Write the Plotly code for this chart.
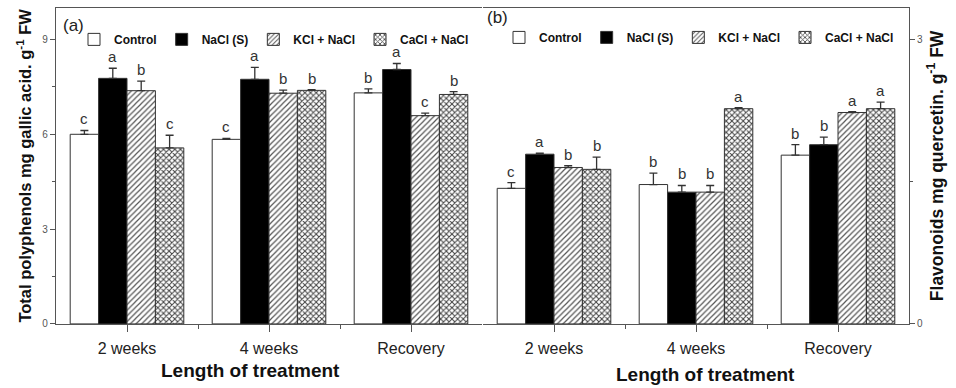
import plotly.graph_objects as go

# Sampling times and treatments
categories = ["2 weeks", "4 weeks", "Recovery"]
treatments = ["Control", "NaCl (S)", "KCl + NaCl", "CaCl + NaCl"]

# (a) Total polyphenols (mg gallic acid g-1 FW): means, upper SE, letters
poly_control = [6.00, 5.84, 7.31]
poly_nacl = [7.77, 7.74, 8.05]
poly_kcl = [7.38, 7.30, 6.59]
poly_cacl = [5.57, 7.39, 7.26]
poly_err_control = [0.12, 0.03, 0.13]
poly_err_nacl = [0.32, 0.38, 0.19]
poly_err_kcl = [0.30, 0.10, 0.08]
poly_err_cacl = [0.40, 0.02, 0.09]
poly_sig_control = ["c", "c", "b"]
poly_sig_nacl = ["a", "a", "a"]
poly_sig_kcl = ["b", "b", "c"]
poly_sig_cacl = ["c", "b", "b"]

# (b) Flavonoids (mg quercetin g-1 FW): means, upper SE, letters
flav_control = [1.43, 1.47, 1.78]
flav_nacl = [1.79, 1.39, 1.89]
flav_kcl = [1.65, 1.39, 2.23]
flav_cacl = [1.63, 2.27, 2.27]
flav_err_control = [0.06, 0.12, 0.11]
flav_err_nacl = [0.01, 0.07, 0.08]
flav_err_kcl = [0.02, 0.07, 0.01]
flav_err_cacl = [0.13, 0.01, 0.07]
flav_sig_control = ["c", "b", "b"]
flav_sig_nacl = ["a", "b", "b"]
flav_sig_kcl = ["b", "b", "a"]
flav_sig_cacl = ["b", "a", "a"]

poly_vals = [poly_control, poly_nacl, poly_kcl, poly_cacl]
poly_errs = [poly_err_control, poly_err_nacl, poly_err_kcl, poly_err_cacl]
poly_sigs = [poly_sig_control, poly_sig_nacl, poly_sig_kcl, poly_sig_cacl]
flav_vals = [flav_control, flav_nacl, flav_kcl, flav_cacl]
flav_errs = [flav_err_control, flav_err_nacl, flav_err_kcl, flav_err_cacl]
flav_sigs = [flav_sig_control, flav_sig_nacl, flav_sig_kcl, flav_sig_cacl]

FONT = "Liberation Sans, Arial, sans-serif"
EDGE = "#333333"
AXIS = "#555555"

fills = [
    dict(color="white"),
    dict(color="black"),
    dict(color="white", pattern=dict(shape="/", fgcolor="#555555", bgcolor="white",
                                     size=4, solidity=0.3, fillmode="replace")),
    dict(color="white", pattern=dict(shape="x", fgcolor="#444444", bgcolor="white",
                                     size=4, solidity=0.45, fillmode="replace")),
]

xpos = list(range(len(categories)))
n = len(treatments)
bar_w = 0.8 / n

fig = go.Figure()
annotations = []

panels = [
    ("x", "y", "legend", poly_vals, poly_errs, poly_sigs),
    ("x2", "y2", "legend2", flav_vals, flav_errs, flav_sigs),
]
for xa, ya, lg, vals, errs, sigs in panels:
    for j, name in enumerate(treatments):
        fig.add_trace(go.Bar(
            x=xpos, y=vals[j], name=name, xaxis=xa, yaxis=ya, legend=lg,
            offsetgroup=str(j),
            marker=dict(line=dict(color=EDGE, width=1), **fills[j]),
            error_y=dict(type="data", array=errs[j], arrayminus=[0] * len(xpos),
                         symmetric=False, color=EDGE, thickness=1.3, width=4),
        ))
        for i in xpos:
            annotations.append(dict(
                x=i + (j - (n - 1) / 2) * bar_w, y=vals[j][i] + errs[j][i],
                xref=xa, yref=ya, text=sigs[j][i], showarrow=False,
                yanchor="bottom", yshift=1,
                font=dict(family=FONT, size=15, color="#333333"),
            ))

xaxis_common = dict(
    range=[-0.5, 2.5], tickvals=xpos, ticktext=categories,
    ticks="outside", ticklen=7, tickcolor=AXIS, ticklabelstandoff=3,
    minor=dict(tickvals=[0.5, 1.5], ticks="outside", ticklen=4, tickcolor=AXIS),
    showline=True, mirror=True, linecolor=AXIS, linewidth=1.2,
    showgrid=False, zeroline=False,
    tickfont=dict(family=FONT, size=16, color="#222222"),
)

fig.update_layout(
    width=956, height=388,
    margin=dict(l=0, r=0, t=0, b=0),
    paper_bgcolor="white", plot_bgcolor="white",
    barmode="group", bargap=0.2, bargroupgap=0,
    font=dict(family=FONT),
    xaxis=dict(domain=[56 / 956, 482 / 956], anchor="y", **xaxis_common),
    xaxis2=dict(domain=[483 / 956, 909 / 956], anchor="y2", **xaxis_common),
    yaxis=dict(
        domain=[59 / 388, 380 / 388], anchor="x", range=[0, 10],
        tickvals=[0, 3, 6, 9], ticks="outside", ticklen=5, tickcolor=AXIS,
        minor=dict(tickvals=[1.5, 4.5, 7.5], ticks="outside", ticklen=3, tickcolor=AXIS),
        showline=True, linecolor=AXIS, linewidth=1.2, showgrid=False, zeroline=False,
        tickfont=dict(family=FONT, size=10, color="#555555"),
        title=dict(text="Total polyphenols mg gallic acid. g<sup>-1</sup> FW",
                   font=dict(family=FONT, size=16.5, color="#111111", weight="bold"),
                   standoff=6),
    ),
    yaxis2=dict(
        domain=[59 / 388, 380 / 388], anchor="x2", side="right", range=[0, 10 / 3],
        tickvals=[0, 3], ticks="outside", ticklen=5, tickcolor=AXIS,
        minor=dict(tickvals=[1.5], ticks="outside", ticklen=3, tickcolor=AXIS),
        showline=True, linecolor=AXIS, linewidth=1.2, showgrid=False, zeroline=False,
        tickfont=dict(family=FONT, size=10, color="#555555"),
        title=dict(text="Flavonoids mg quercetin. g<sup>-1</sup> FW",
                   font=dict(family=FONT, size=17.5, color="#111111", weight="bold"),
                   standoff=8),
    ),
    legend=dict(orientation="h", x=74 / 956, y=1 - 40 / 388, xanchor="left",
                yanchor="middle", bgcolor="rgba(0,0,0,0)", itemwidth=30,
                font=dict(family=FONT, size=12, color="#111111", weight="bold")),
    legend2=dict(orientation="h", x=499 / 956, y=1 - 38 / 388, xanchor="left",
                 yanchor="middle", bgcolor="rgba(0,0,0,0)", itemwidth=30,
                 font=dict(family=FONT, size=12, color="#111111", weight="bold")),
)

annotations += [
    dict(text="(a)", x=61 / 956, y=1 - 14 / 388, xref="paper", yref="paper",
         xanchor="left", yanchor="top", showarrow=False,
         font=dict(family=FONT, size=17, color="#222222")),
    dict(text="(b)", x=485 / 956, y=1 - 6 / 388, xref="paper", yref="paper",
         xanchor="left", yanchor="top", showarrow=False,
         font=dict(family=FONT, size=17, color="#222222")),
    dict(text="Length of treatment", x=250 / 956, y=1 - 376 / 388, xref="paper",
         yref="paper", xanchor="center", yanchor="middle", showarrow=False,
         font=dict(family=FONT, size=19, color="#111111", weight="bold")),
    dict(text="Length of treatment", x=705 / 956, y=1 - 380 / 388, xref="paper",
         yref="paper", xanchor="center", yanchor="middle", showarrow=False,
         font=dict(family=FONT, size=19, color="#111111", weight="bold")),
]
fig.update_layout(annotations=annotations)

fig.write_html("out.html")
